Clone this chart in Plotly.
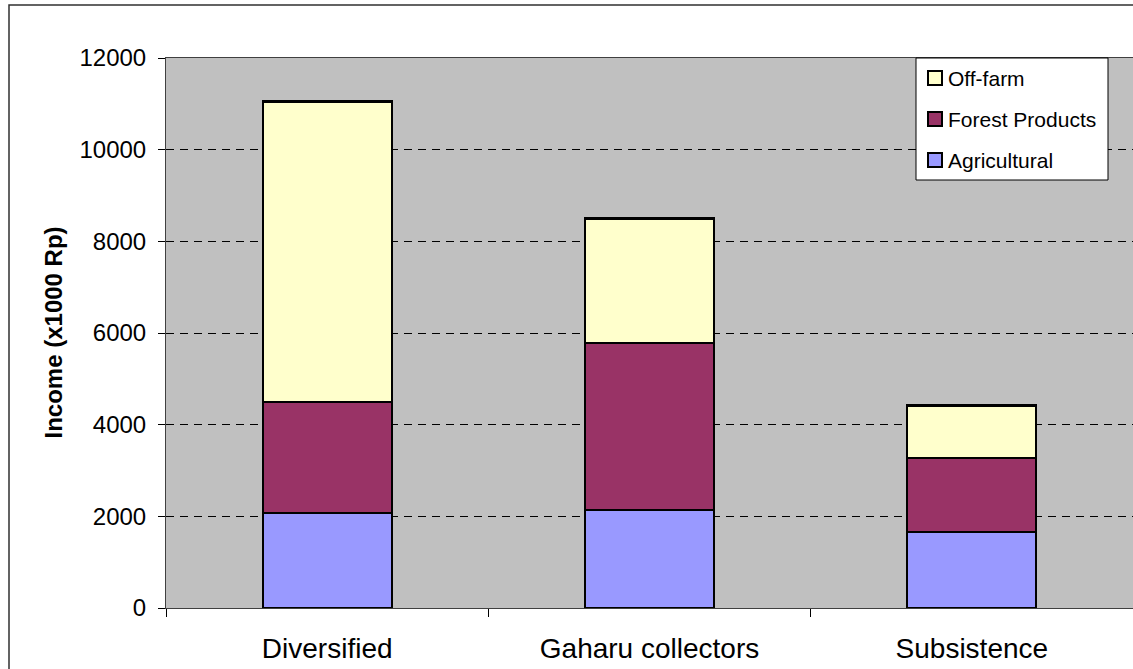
import plotly.graph_objects as go

# Household income by livelihood group, stacked by source (x1000 Rp)
categories = ["Diversified", "Gaharu collectors", "Subsistence"]
agricultural = [2080, 2140, 1660]
forest_products = [2420, 3640, 1620]
off_farm = [6550, 2720, 1140]
y_ticks = [0, 2000, 4000, 6000, 8000, 10000, 12000]

series_names = ["Agricultural", "Forest Products", "Off-farm"]
series_colors = ["#9999FF", "#993366", "#FFFFCC"]
series_values = [agricultural, forest_products, off_farm]

FONT = "Arial, Liberation Sans, sans-serif"
W, H = 1133, 669
L, R, T, B = 166, 1133, 58, 608  # plot area in pixels


def px_x(p):
    return (p - L) / (R - L)


def px_y(p):
    return (B - p) / (B - T)


fig = go.Figure()
for name, color, vals in zip(series_names, series_colors, series_values):
    fig.add_trace(go.Bar(
        x=categories, y=vals, name=name,
        marker=dict(color=color, line=dict(color="#000000", width=2.2)),
        showlegend=False,
    ))

shapes = []
annotations = []

# outer chart frame
shapes.append(dict(type="rect", xref="paper", yref="paper",
                   x0=px_x(9), x1=px_x(1145), y0=px_y(5), y1=px_y(680),
                   line=dict(color="#303030", width=1.5), fillcolor="rgba(0,0,0,0)",
                   layer="above"))

# legend box (top entry first, as stacked)
lx0, lx1, ly0, ly1 = 916, 1108, 58, 180
shapes.append(dict(type="rect", xref="paper", yref="paper",
                   x0=px_x(lx0), x1=px_x(lx1), y0=px_y(ly0), y1=px_y(ly1),
                   line=dict(color="#000000", width=1), fillcolor="#FFFFFF",
                   layer="above"))
legend_rows = [78, 119, 160]
for cy, name, color in zip(legend_rows, series_names[::-1], series_colors[::-1]):
    shapes.append(dict(type="rect", xref="paper", yref="paper",
                       x0=px_x(928), x1=px_x(942), y0=px_y(cy - 7), y1=px_y(cy + 7),
                       line=dict(color="#000000", width=2), fillcolor=color,
                       layer="above"))
    annotations.append(dict(text=name, xref="paper", yref="paper",
                            x=px_x(946), y=px_y(cy), xanchor="left", yanchor="middle",
                            showarrow=False, font=dict(family=FONT, size=21, color="#000000")))

# y-axis title
annotations.append(dict(text="<b>Income (x1000 Rp)</b>", xref="paper", yref="paper",
                        x=px_x(53), y=px_y(332.5), xanchor="center", yanchor="middle",
                        textangle=-90, showarrow=False,
                        font=dict(family=FONT, size=24, color="#000000")))

fig.update_layout(
    width=W, height=H,
    margin=dict(l=L, r=W - R, t=T, b=H - B, pad=0),
    barmode="stack", bargap=0.6,
    plot_bgcolor="#C0C0C0", paper_bgcolor="#FFFFFF",
    font=dict(family=FONT, color="#000000"),
    shapes=shapes, annotations=annotations,
    showlegend=False,
)
fig.update_xaxes(
    type="category", tickson="boundaries", ticks="outside", ticklen=8,
    tickcolor="#000000", tickwidth=1,
    showline=True, linecolor="#404040", linewidth=1, mirror=True,
    showgrid=False, tickfont=dict(family=FONT, size=28), ticklabelstandoff=15,
    automargin=False,
)
fig.update_yaxes(
    range=[0, 12000], tickvals=y_ticks, ticktext=[str(v) for v in y_ticks],
    ticks="outside", ticklen=7, tickcolor="#000000", tickwidth=1,
    showline=True, linecolor="#404040", linewidth=1, mirror=True,
    showgrid=True, gridcolor="#000000", gridwidth=1, griddash="8px,6px",
    zeroline=False, tickfont=dict(family=FONT, size=24), ticklabelstandoff=7,
    automargin=False,
)

fig.write_html("out.html")
